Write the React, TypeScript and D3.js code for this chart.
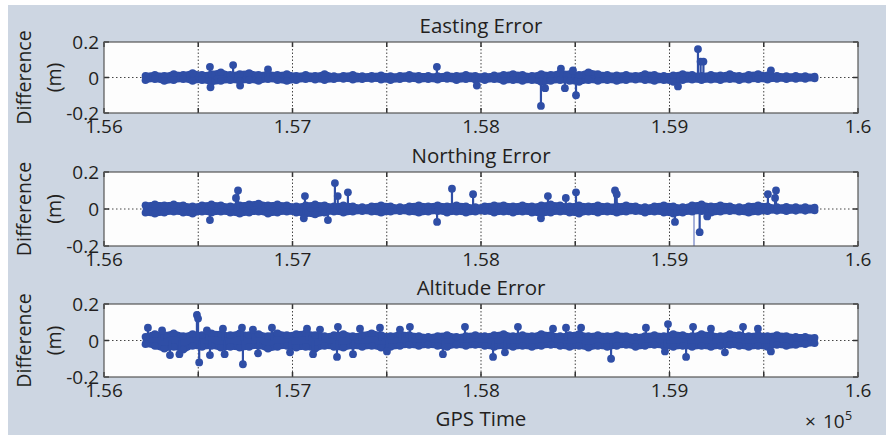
import React from "react";
import * as d3 from "d3";

// GPS time samples (s) used for the dense error band
const gpsTime = [
  156220, 156270, 156320, 156370, 156420, 156470, 156520, 156570, 156620, 156670,
  156720, 156770, 156820, 156870, 156920, 156970, 157020, 157070, 157120, 157170,
  157220, 157270, 157320, 157370, 157420, 157470, 157520, 157570, 157620, 157670,
  157720, 157770, 157820, 157870, 157920, 157970, 158020, 158070, 158120, 158170,
  158220, 158270, 158320, 158370, 158420, 158470, 158520, 158570, 158620, 158670,
  158720, 158770, 158820, 158870, 158920, 158970, 159020, 159070, 159120, 159170,
  159220, 159270, 159320, 159370, 159420, 159470, 159520, 159570, 159620, 159670,
  159720, 159770,
];

// Easting error band (upper / lower) in metres
const eastUp = [
  0.01, 0.015, 0.01, 0.02, 0.015, 0.025, 0.015, 0.02, 0.03, 0.015,
  0.02, 0.025, 0.015, 0.02, 0.015, 0.02, 0.01, 0.015, 0.01, 0.02,
  0.008, 0.01, 0.015, 0.008, 0.01, 0.012, 0.008, 0.01, 0.015, 0.01,
  0.01, 0.008, 0.012, 0.01, 0.015, 0.01, 0.008, 0.012, 0.015, 0.02,
  0.015, 0.01, 0.02, 0.015, 0.025, 0.02, 0.015, 0.03, 0.02, 0.015,
  0.012, 0.015, 0.01, 0.02, 0.015, 0.01, 0.012, 0.02, 0.015, 0.01,
  0.015, 0.012, 0.02, 0.01, 0.015, 0.02, 0.012, 0.01, 0.008, 0.01,
  0.008, 0.006,
];
const eastDn = [
  -0.015, -0.01, -0.02, -0.015, -0.01, -0.02, -0.015, -0.025, -0.02, -0.015,
  -0.02, -0.015, -0.02, -0.01, -0.015, -0.02, -0.015, -0.01, -0.012, -0.015,
  -0.01, -0.008, -0.012, -0.01, -0.008, -0.012, -0.015, -0.01, -0.008, -0.012,
  -0.01, -0.012, -0.008, -0.015, -0.01, -0.012, -0.015, -0.01, -0.02, -0.015,
  -0.02, -0.015, -0.025, -0.02, -0.015, -0.02, -0.025, -0.015, -0.02, -0.015,
  -0.02, -0.015, -0.012, -0.015, -0.02, -0.015, -0.025, -0.015, -0.012, -0.015,
  -0.012, -0.015, -0.01, -0.015, -0.012, -0.01, -0.012, -0.008, -0.01, -0.008,
  -0.008, -0.006,
];
const eastSpikeT = [156562, 156565, 156685, 156722, 156870, 157766, 157978, 158318, 158340, 158424, 158445, 158488, 158504, 159045, 159151, 159165, 159180, 159538];
const eastSpikeV = [0.06, -0.055, 0.07, -0.045, 0.045, 0.06, -0.045, -0.16, -0.06, 0.05, -0.06, 0.04, -0.1, -0.05, 0.16, 0.09, 0.09, 0.04];

// Northing error band
const northUp = [
  0.02, 0.025, 0.02, 0.025, 0.02, 0.015, 0.02, 0.025, 0.02, 0.015,
  0.02, 0.025, 0.03, 0.02, 0.025, 0.02, 0.015, 0.02, 0.025, 0.02,
  0.015, 0.02, 0.015, 0.01, 0.015, 0.02, 0.015, 0.01, 0.015, 0.02,
  0.015, 0.02, 0.015, 0.02, 0.015, 0.01, 0.015, 0.02, 0.02, 0.015,
  0.02, 0.015, 0.02, 0.025, 0.02, 0.015, 0.02, 0.015, 0.02, 0.015,
  0.015, 0.02, 0.015, 0.01, 0.015, 0.02, 0.015, 0.01, 0.02, 0.025,
  0.015, 0.02, 0.015, 0.01, 0.015, 0.02, 0.015, 0.01, 0.012, 0.01,
  0.01, 0.008,
];
const northDn = [
  -0.02, -0.025, -0.02, -0.015, -0.02, -0.025, -0.015, -0.02, -0.015, -0.02,
  -0.025, -0.02, -0.015, -0.025, -0.02, -0.015, -0.02, -0.025, -0.03, -0.02,
  -0.015, -0.02, -0.015, -0.012, -0.015, -0.02, -0.015, -0.012, -0.015, -0.02,
  -0.015, -0.012, -0.02, -0.015, -0.02, -0.015, -0.012, -0.02, -0.015, -0.02,
  -0.015, -0.02, -0.025, -0.02, -0.015, -0.02, -0.025, -0.015, -0.02, -0.015,
  -0.02, -0.015, -0.012, -0.02, -0.015, -0.02, -0.025, -0.02, -0.015, -0.012,
  -0.02, -0.015, -0.012, -0.015, -0.02, -0.015, -0.012, -0.01, -0.012, -0.01,
  -0.01, -0.008,
];
const northSpikeT = [156562, 156700, 156711, 157060, 157066, 157188, 157225, 157240, 157294, 157767, 157846, 157958, 158318, 158355, 158450, 158504, 158711, 158720, 159029, 159160, 159200, 159522, 159560, 159565];
const northSpikeV = [-0.06, 0.06, 0.1, -0.05, 0.07, -0.06, 0.14, 0.07, 0.09, -0.07, 0.11, 0.08, -0.05, 0.07, 0.06, 0.09, 0.1, 0.08, -0.07, -0.125, -0.04, 0.08, 0.06, 0.1];
// single dropout drawn as a thin line only
const northGlitchT = [159130];
const northGlitchV = [-0.2];

// Altitude error band
const altUp = [
  0.02, 0.035, 0.03, 0.04, 0.025, 0.035, 0.03, 0.04, 0.035, 0.03,
  0.04, 0.03, 0.035, 0.025, 0.04, 0.03, 0.035, 0.04, 0.03, 0.025,
  0.03, 0.035, 0.025, 0.03, 0.04, 0.03, 0.025, 0.035, 0.03, 0.025,
  0.02, 0.025, 0.03, 0.02, 0.025, 0.03, 0.025, 0.03, 0.035, 0.025,
  0.03, 0.025, 0.035, 0.03, 0.025, 0.03, 0.035, 0.025, 0.03, 0.025,
  0.03, 0.025, 0.02, 0.025, 0.03, 0.025, 0.035, 0.03, 0.025, 0.035,
  0.03, 0.025, 0.035, 0.03, 0.025, 0.03, 0.025, 0.03, 0.025, 0.02,
  0.02, 0.015,
];
const altDn = [
  -0.02, -0.03, -0.045, -0.035, -0.05, -0.03, -0.035, -0.03, -0.04, -0.035,
  -0.04, -0.035, -0.03, -0.045, -0.035, -0.03, -0.04, -0.035, -0.045, -0.03,
  -0.035, -0.04, -0.03, -0.035, -0.03, -0.04, -0.035, -0.03, -0.025, -0.03,
  -0.025, -0.03, -0.035, -0.025, -0.03, -0.025, -0.03, -0.035, -0.03, -0.035,
  -0.03, -0.035, -0.03, -0.025, -0.03, -0.035, -0.03, -0.04, -0.03, -0.035,
  -0.03, -0.025, -0.035, -0.03, -0.025, -0.03, -0.035, -0.03, -0.035, -0.03,
  -0.035, -0.03, -0.025, -0.03, -0.035, -0.03, -0.035, -0.025, -0.03, -0.025,
  -0.02, -0.015,
];
const altSpikeT = [
  156233, 156308, 156493, 156499, 156505, 156546, 156631, 156732, 156790, 156891, 157077, 157146, 157241, 157358, 157464, 157570, 157623, 157915,
  156350, 156400, 156562, 156640, 156737, 156817, 156987, 157109, 157236, 157321, 157501, 157798,
  158196, 158382, 158451, 158531, 158875, 158992, 159125, 159220, 159390, 159469,
  158064, 158127, 158690, 158976, 159088, 159294, 159538,
];
const altSpikeV = [
  0.07, 0.055, 0.14, 0.12, -0.12, 0.055, 0.065, 0.07, 0.06, 0.07, 0.065, 0.06, 0.075, 0.065, 0.07, 0.06, 0.075, 0.075,
  -0.08, -0.075, -0.08, -0.075, -0.13, -0.07, -0.065, -0.075, -0.09, -0.075, -0.06, -0.075,
  0.075, 0.065, 0.07, 0.07, 0.07, 0.09, 0.075, 0.065, 0.075, 0.065,
  -0.09, -0.065, -0.1, -0.06, -0.09, -0.065, -0.06,
];

const panelTitles = ["Easting Error", "Northing Error", "Altitude Error"];
const yTickValues = [-0.2, 0, 0.2];
const yTickLabels = ["-0.2", "0", "0.2"];

const W = 886;
const H = 435;
const FONT = "'Open Sans', 'Noto Sans', sans-serif";
const BLUE = "#2f4ea6";
const TEXT = "#231f20";

const panels = [
  { title: panelTitles[0], top: 42, bottom: 113, up: eastUp, dn: eastDn, st: eastSpikeT, sv: eastSpikeV, gt: [] as number[], gv: [] as number[] },
  { title: panelTitles[1], top: 172, bottom: 246, up: northUp, dn: northDn, st: northSpikeT, sv: northSpikeV, gt: northGlitchT, gv: northGlitchV },
  { title: panelTitles[2], top: 304, bottom: 377, up: altUp, dn: altDn, st: altSpikeT, sv: altSpikeV, gt: [] as number[], gv: [] as number[] },
];

const x = d3.scaleLinear().domain([156000, 160000]).range([104, 858]);
const xTicks = x.ticks(8);

function Panel({ p, idx }: { p: (typeof panels)[0]; idx: number }) {
  const y = d3.scaleLinear().domain([-0.2, 0.2]).range([p.bottom, p.top]);
  const [x0, x1] = x.range();
  const area = d3
    .area<number>()
    .x((_, i) => x(gpsTime[i]))
    .y0((_, i) => y(p.dn[i]))
    .y1((_, i) => y(p.up[i]))
    .curve(d3.curveMonotoneX);
  const clipId = `clip${idx}`;
  return (
    <g>
      <defs>
        <clipPath id={clipId}>
          <rect x={x0} y={p.top} width={x1 - x0} height={p.bottom - p.top} />
        </clipPath>
      </defs>
      <rect x={x0} y={p.top} width={x1 - x0} height={p.bottom - p.top} fill="#fdfdfd" />
      {/* dotted grid */}
      {xTicks.slice(1, -1).map((t) => (
        <line key={t} x1={x(t)} x2={x(t)} y1={p.top} y2={p.bottom} stroke="#444" strokeWidth={1} strokeDasharray="1.5,2" />
      ))}
      <line x1={x0} x2={x1} y1={y(0)} y2={y(0)} stroke="#444" strokeWidth={1} strokeDasharray="1.5,2.5" />
      <g clipPath={`url(#${clipId})`}>
        {p.gt.map((t, i) => (
          <line key={"g" + i} x1={x(t)} x2={x(t)} y1={y(0)} y2={y(p.gv[i])} stroke="#6f80c4" strokeWidth={1.2} />
        ))}
        <path d={area(gpsTime) || ""} fill={BLUE} stroke={BLUE} strokeWidth={5.5} strokeLinejoin="round" strokeLinecap="round" />
        {gpsTime.map((t, i) => (
          <g key={t}>
            <circle cx={x(t)} cy={y(p.up[i])} r={3.8} fill={BLUE} />
            <circle cx={x(t)} cy={y(p.dn[i])} r={3.8} fill={BLUE} />
          </g>
        ))}
        {p.st.map((t, i) => (
          <g key={"s" + i}>
            <line x1={x(t)} x2={x(t)} y1={y(0)} y2={y(p.sv[i])} stroke={BLUE} strokeWidth={2.2} />
            <circle cx={x(t)} cy={y(p.sv[i])} r={3.9} fill={BLUE} />
          </g>
        ))}
      </g>
      {/* tick marks */}
      {xTicks.map((t) => (
        <g key={"t" + t}>
          <line x1={x(t)} x2={x(t)} y1={p.top} y2={p.top + 5} stroke="#333" strokeWidth={1.5} />
          <line x1={x(t)} x2={x(t)} y1={p.bottom} y2={p.bottom - 5} stroke="#333" strokeWidth={1.5} />
        </g>
      ))}
      {yTickValues.map((v) => (
        <g key={"y" + v}>
          <line x1={x0} x2={x0 + 5} y1={y(v)} y2={y(v)} stroke="#333" strokeWidth={1.5} />
          <line x1={x1} x2={x1 - 5} y1={y(v)} y2={y(v)} stroke="#333" strokeWidth={1.5} />
        </g>
      ))}
      <rect x={x0} y={p.top} width={x1 - x0} height={p.bottom - p.top} fill="none" stroke="#555" strokeWidth={1.2} />
      {/* labels */}
      {xTicks.filter((t) => t % 1000 === 0).map((t) => (
        <text key={"l" + t} x={x(t)} y={p.bottom + 19.5} textAnchor="middle" fontSize={19} fill={TEXT}>
          {String(t / 1e5)}
        </text>
      ))}
      {yTickValues.map((v, i) => (
        <text key={"yl" + v} x={x0 - 5} y={y(v) + 7} textAnchor="end" fontSize={19} fill={TEXT}>
          {yTickLabels[i]}
        </text>
      ))}
      <text x={(x0 + x1) / 2} y={p.top - 9} textAnchor="middle" fontSize={20.5} fill={TEXT}>
        {p.title}
      </text>
      <g transform={`translate(31, ${(p.top + p.bottom) / 2}) rotate(-90)`}>
        <text x={0} y={0} textAnchor="middle" fontSize={19.5} fill={TEXT}>Difference</text>
        <text x={0} y={30} textAnchor="middle" fontSize={19.5} fill={TEXT}>(m)</text>
      </g>
    </g>
  );
}

export default function App() {
  return (
    <svg
      width={W}
      height={H}
      style={{ position: "absolute", left: 0, top: 0, fontFamily: FONT }}
    >
      <rect x={0} y={0} width={W} height={H} fill="#ffffff" />
      <rect x={8} y={5} width={W - 8} height={H - 5} fill="#cdd6e2" />
      {panels.map((p, i) => (
        <Panel key={p.title} p={p} idx={i} />
      ))}
      <text x={481} y={426} textAnchor="middle" fontSize={20.5} fill={TEXT}>GPS Time</text>
      <text x={805} y={428} fontSize={19} fill={TEXT}>×</text>
      <text x={823} y={428} fontSize={19} fill={TEXT}>10</text>
      <text x={845} y={420} fontSize={12.5} fill={TEXT}>5</text>
    </svg>
  );
}
